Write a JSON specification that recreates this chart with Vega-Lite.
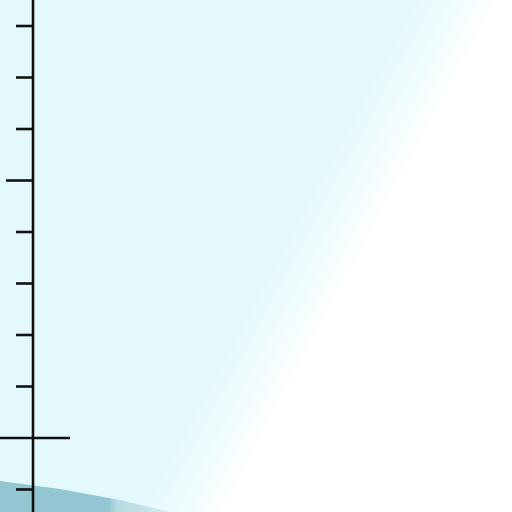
{
  "$schema": "https://vega.github.io/schema/vega-lite/v6.json",
  "description": "Cropped sketch view: left value axis, shaded field and a low band",
  "width": 512,
  "height": 512,
  "autosize": {"type": "none"},
  "padding": 0,
  "background": "#e3f9fd",
  "config": {"view": {"stroke": "transparent"}},
  "datasets": {
    "field": [{"x": -0.641, "x2": 9.301, "y": -1.437, "y2": 8.505}],
    "band": [
      {"x": -0.641, "y": -0.835},
      {"x": 0.524, "y": -0.99},
      {"x": 1.689, "y": -1.204},
      {"x": 2.66, "y": -1.437}
    ],
    "strokes": [
      {"part": "axis", "x": 0, "x2": 0, "y": -1.437, "y2": 8.505},
      {"part": "tick", "x": -0.33, "x2": 0, "y": -1, "y2": -1},
      {"part": "base", "x": -0.641, "x2": 0.718, "y": 0, "y2": 0},
      {"part": "tick", "x": -0.33, "x2": 0, "y": 1, "y2": 1},
      {"part": "tick", "x": -0.33, "x2": 0, "y": 2, "y2": 2},
      {"part": "tick", "x": -0.33, "x2": 0, "y": 3, "y2": 3},
      {"part": "tick", "x": -0.33, "x2": 0, "y": 4, "y2": 4},
      {"part": "major", "x": -0.524, "x2": 0, "y": 5, "y2": 5},
      {"part": "tick", "x": -0.33, "x2": 0, "y": 6, "y2": 6},
      {"part": "tick", "x": -0.33, "x2": 0, "y": 7, "y2": 7},
      {"part": "tick", "x": -0.33, "x2": 0, "y": 8, "y2": 8}
    ]
  },
  "layer": [
    {
      "data": {"name": "band"},
      "mark": {
        "type": "area",
        "clip": true,
        "fill": {
          "gradient": "linear",
          "x1": 0, "y1": 0, "x2": 1, "y2": 0,
          "stops": [
            {"offset": 0, "color": "#93c5d3"},
            {"offset": 0.64, "color": "#93c5d3"},
            {"offset": 0.69, "color": "#b9dce5"},
            {"offset": 1, "color": "#c6e4eb"}
          ]
        }
      },
      "encoding": {
        "x": {"field": "x", "type": "quantitative", "scale": {"domain": [-0.641, 9.301], "nice": false, "zero": false}, "axis": null},
        "y": {"field": "y", "type": "quantitative", "scale": {"domain": [-1.437, 8.505], "nice": false, "zero": false}, "axis": null},
        "y2": {"datum": -1.437}
      }
    },
    {
      "data": {"name": "field"},
      "mark": {
        "type": "rect",
        "fill": {
          "gradient": "linear",
          "x1": 0, "y1": 0, "x2": 1.192, "y2": 0.64,
          "stops": [
            {"offset": 0, "color": "rgba(255,255,255,0)"},
            {"offset": 0.52, "color": "rgba(255,255,255,0)"},
            {"offset": 0.578, "color": "rgba(255,255,255,0.45)"},
            {"offset": 0.635, "color": "#ffffff"},
            {"offset": 1, "color": "#ffffff"}
          ]
        }
      },
      "encoding": {
        "x": {"field": "x", "type": "quantitative"},
        "x2": {"field": "x2"},
        "y": {"field": "y", "type": "quantitative"},
        "y2": {"field": "y2"}
      }
    },
    {
      "data": {"name": "strokes"},
      "mark": {"type": "rule", "color": "#111111", "strokeWidth": 2.6, "strokeCap": "butt"},
      "encoding": {
        "x": {"field": "x", "type": "quantitative"},
        "x2": {"field": "x2"},
        "y": {"field": "y", "type": "quantitative"},
        "y2": {"field": "y2"}
      }
    }
  ]
}
